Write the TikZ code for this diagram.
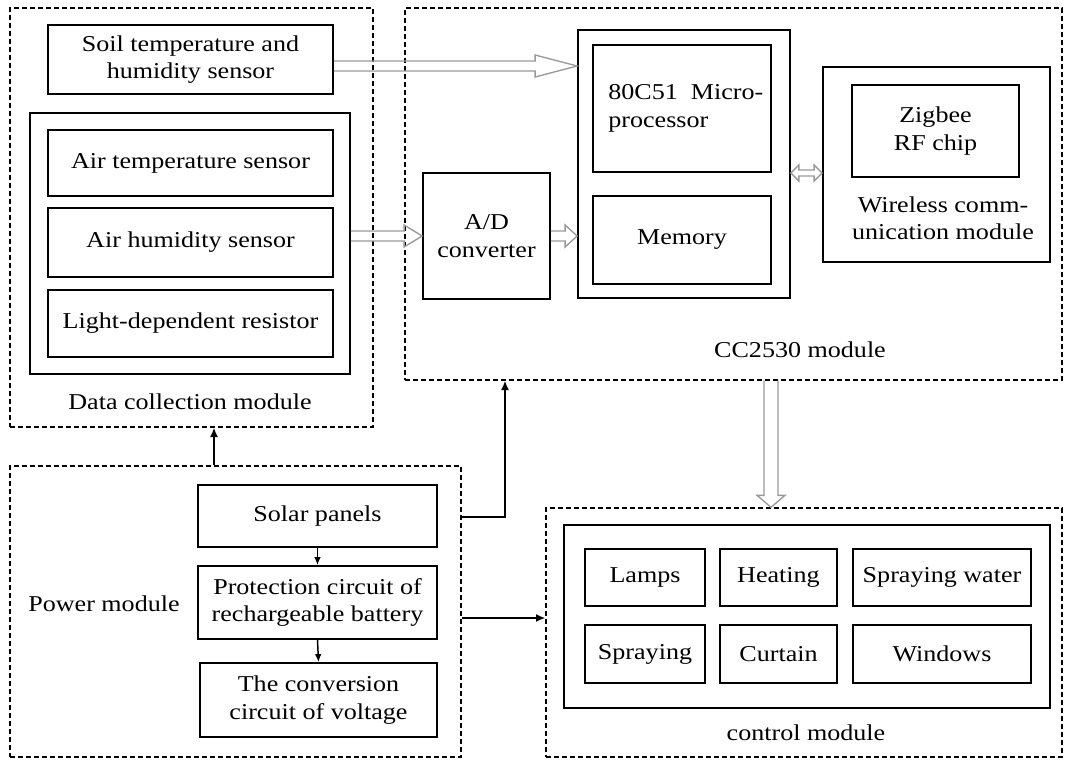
\documentclass[tikz,border=0pt]{standalone}
\usepackage{fontspec}
\setmainfont{Liberation Serif}[FakeStretch=1.15]
\usetikzlibrary{arrows.meta,fit}
\newcommand\hollowR[5]{\draw[hol] ([shift={(0,-#3)}]#1) -- ([shift={(-#5,-#3)}]#2) -- ([shift={(-#5,-#4)}]#2) -- (#2) -- ([shift={(-#5,#4)}]#2) -- ([shift={(-#5,#3)}]#2) -- ([shift={(0,#3)}]#1);}
\newcommand\hollowD[5]{\draw[hol] ([shift={(-#3,0)}]#1) -- ([shift={(-#3,-#5)}]#2) -- ([shift={(-#4,-#5)}]#2) -- (#2) -- ([shift={(#4,-#5)}]#2) -- ([shift={(#3,-#5)}]#2) -- ([shift={(#3,0)}]#1);}
\newcommand\hollowLR[5]{\draw[hol] (#1) -- ([shift={(#5,-#4)}]#1) -- ([shift={(#5,-#3)}]#1) -- ([shift={(-#5,-#3)}]#2) -- ([shift={(-#5,-#4)}]#2) -- (#2) -- ([shift={(-#5,#4)}]#2) -- ([shift={(-#5,#3)}]#2) -- ([shift={(#5,#3)}]#1) -- ([shift={(#5,#4)}]#1) -- cycle;}
\begin{document}
\begin{tikzpicture}[x=0.75pt,y=-0.75pt,
  box/.style={draw=black, line width=1.3pt, inner sep=0pt},
  modbox/.style={draw=black, line width=1pt, dash pattern=on 4pt off 2pt, inner sep=0pt},
  lbl/.style={font=\fontsize{17}{20.5}\selectfont, inner sep=0pt, align=center},
  hol/.style={draw=gray!80, line width=1pt, line join=miter},
  conn/.style={draw=black, line width=1.3pt, -{Latex[length=7pt,width=6pt]}}
]
\useasboundingbox (0,0) rectangle (1065,760);
% module boxes
\node[modbox, fit={(10,8) (373,427)}] (data) {};
\node[modbox, fit={(405,8) (1062,380)}] (cc) {};
\node[modbox, fit={(10,466) (461,757)}] (power) {};
\node[modbox, fit={(546,508) (1062,757)}] (ctrl) {};
% data collection
\node[box, fit={(48,25) (333,94)}] (soil) {};
\node[lbl] at (soil.center) {Soil temperature and\\humidity sensor};
\node[box, fit={(30,113) (350,374)}] (air) {};
\node[box, fit={(48,130) (333,196)}] (airt) {};
\node[lbl] at (airt.center) {Air temperature sensor};
\node[box, fit={(48,208) (333,277)}] (airh) {};
\node[lbl] at (airh.center) {Air humidity sensor};
\node[box, fit={(48,290) (333,357)}] (ldr) {};
\node[lbl] at (ldr.center) {Light-dependent resistor};
\node[lbl] (datal) at (190,402) {Data collection module};
% CC2530
\node[box, fit={(423,173) (550,299)}] (ad) {};
\node[lbl] at (ad.center) {A/D\\converter};
\node[box, fit={(578,30) (790,298)}] (mcu) {};
\node[box, fit={(593,45) (771,172)}] (proc) {};
\node[lbl, align=left, anchor=west] at ([xshift=12pt]proc.west) {80C51\ \ Micro-\\processor};
\node[box, fit={(593,196) (771,284)}] (mem) {};
\node[lbl] at (mem.center) {Memory};
\node[box, fit={(823,67) (1050,262)}] (wl) {};
\node[box, fit={(852,85) (1019,177)}] (zig) {};
\node[lbl] at (zig.center) {Zigbee\\RF chip};
\node[lbl] (wll) at (943,218) {Wireless comm-\\unication module};
\node[lbl] (ccl) at (800,350) {CC2530 module};
% power
\node[box, fit={(198,485) (437,547)}] (solar) {};
\node[lbl] at (solar.center) {Solar panels};
\node[box, fit={(198,566) (437,639)}] (prot) {};
\node[lbl] at (prot.center) {Protection circuit of\\rechargeable battery};
\node[box, fit={(200,663) (437,737)}] (conv) {};
\node[lbl] at (conv.center) {The conversion\\circuit of voltage};
\node[lbl] (powl) at (104,604) {Power module};
% control
\node[box, fit={(564,525) (1050,708)}] (cin) {};
\node[box, fit={(585,549) (705,606)}] (lamps) {};
\node[lbl] at (lamps.center) {Lamps};
\node[box, fit={(720,549) (837,606)}] (heat) {};
\node[lbl] at (heat.center) {Heating};
\node[box, fit={(853,549) (1031,606)}] (sprw) {};
\node[lbl] at (sprw.center) {Spraying water};
\node[box, fit={(585,625) (705,683)}] (spr) {};
\node[lbl] at (spr.center) {Spraying};
\node[box, fit={(720,625) (837,683)}] (curt) {};
\node[lbl] at (curt.center) {Curtain};
\node[box, fit={(853,625) (1031,683)}] (win) {};
\node[lbl] at (win.center) {Windows};
\node[lbl] (ctrll) at (806,733) {control module};
% hollow arrows
\coordinate (a1s) at (soil.east |- 0,66);
\coordinate (a1e) at (mcu.west |- 0,66);
\hollowR{a1s}{a1e}{5}{11}{42}
\coordinate (a2s) at (air.east |- 0,236);
\coordinate (a2e) at (ad.west |- 0,236);
\hollowR{a2s}{a2e}{5}{11}{18}
\coordinate (a3s) at (ad.east |- 0,236);
\coordinate (a3e) at (mcu.west |- 0,236);
\hollowR{a3s}{a3e}{5}{11}{12}
\coordinate (a4s) at (mcu.east |- 0,173);
\coordinate (a4e) at (wl.west |- 0,173);
\hollowLR{a4s}{a4e}{3}{8}{8}
\coordinate (a5s) at (cc.south -| 771,0);
\coordinate (a5e) at (ctrl.north -| 771,0);
\hollowD{a5s}{a5e}{7}{14}{12}
% connectors
\draw[line width=1.1pt, -{Latex[length=6pt,width=5pt]}] (solar.south) -- (prot.north);
\draw[line width=1.1pt, -{Latex[length=6pt,width=5pt]}] (prot.south) -- (conv.north);
\draw[conn] (power.east |- 0,517) -| (cc.south -| 505,0);
\draw[conn] (power.north -| 214,0) -- (data.south -| 214,0);
\draw[conn] (power.east |- 0,618) -- (ctrl.west |- 0,618);
\end{tikzpicture}
\end{document}
